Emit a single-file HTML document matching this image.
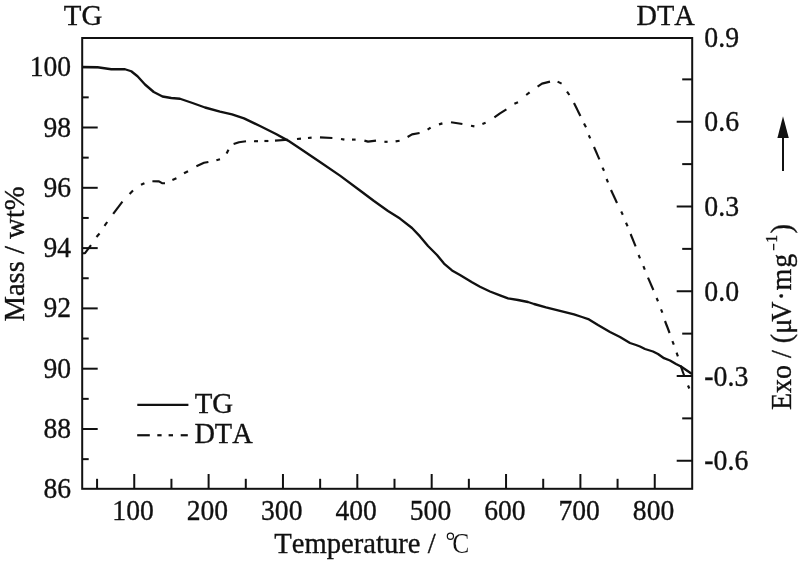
<!DOCTYPE html>
<html><head><meta charset="utf-8"><title>TG-DTA</title>
<style>html,body{margin:0;padding:0;background:#fff;}body{width:800px;height:562px;overflow:hidden;}svg{display:block;}text{font-family:"Liberation Serif",serif;fill:#111;font-kerning:none;stroke:#111;stroke-width:0.35px;}</style>
</head><body>
<svg width="800" height="562" viewBox="0 0 800 562">
<rect x="0" y="0" width="800" height="562" fill="#ffffff"/>
<g stroke="#111" stroke-width="2.0" fill="none" stroke-linecap="butt">
<rect x="82.2" y="38.0" width="610.00" height="450.80"/>
<line x1="82.2" y1="459.15" x2="88.7" y2="459.15"/>
<line x1="82.2" y1="429.00" x2="97.7" y2="429.00"/>
<line x1="82.2" y1="398.85" x2="88.7" y2="398.85"/>
<line x1="82.2" y1="368.70" x2="97.7" y2="368.70"/>
<line x1="82.2" y1="338.55" x2="88.7" y2="338.55"/>
<line x1="82.2" y1="308.40" x2="97.7" y2="308.40"/>
<line x1="82.2" y1="278.25" x2="88.7" y2="278.25"/>
<line x1="82.2" y1="248.10" x2="97.7" y2="248.10"/>
<line x1="82.2" y1="217.95" x2="88.7" y2="217.95"/>
<line x1="82.2" y1="187.80" x2="97.7" y2="187.80"/>
<line x1="82.2" y1="157.65" x2="88.7" y2="157.65"/>
<line x1="82.2" y1="127.50" x2="97.7" y2="127.50"/>
<line x1="82.2" y1="97.35" x2="88.7" y2="97.35"/>
<line x1="82.2" y1="67.20" x2="97.7" y2="67.20"/>
<line x1="692.2" y1="460.75" x2="676.7" y2="460.75"/>
<line x1="692.2" y1="418.38" x2="682.2" y2="418.38"/>
<line x1="692.2" y1="376.00" x2="676.7" y2="376.00"/>
<line x1="692.2" y1="333.62" x2="682.2" y2="333.62"/>
<line x1="692.2" y1="291.25" x2="676.7" y2="291.25"/>
<line x1="692.2" y1="248.87" x2="682.2" y2="248.87"/>
<line x1="692.2" y1="206.50" x2="676.7" y2="206.50"/>
<line x1="692.2" y1="164.12" x2="682.2" y2="164.12"/>
<line x1="692.2" y1="121.75" x2="676.7" y2="121.75"/>
<line x1="692.2" y1="79.37" x2="682.2" y2="79.37"/>
<line x1="97.07" y1="488.8" x2="97.07" y2="478.8"/>
<line x1="134.25" y1="488.8" x2="134.25" y2="474.0"/>
<line x1="171.43" y1="488.8" x2="171.43" y2="478.8"/>
<line x1="208.61" y1="488.8" x2="208.61" y2="474.0"/>
<line x1="245.79" y1="488.8" x2="245.79" y2="478.8"/>
<line x1="282.96" y1="488.8" x2="282.96" y2="474.0"/>
<line x1="320.14" y1="488.8" x2="320.14" y2="478.8"/>
<line x1="357.32" y1="488.8" x2="357.32" y2="474.0"/>
<line x1="394.50" y1="488.8" x2="394.50" y2="478.8"/>
<line x1="431.68" y1="488.8" x2="431.68" y2="474.0"/>
<line x1="468.86" y1="488.8" x2="468.86" y2="478.8"/>
<line x1="506.04" y1="488.8" x2="506.04" y2="474.0"/>
<line x1="543.21" y1="488.8" x2="543.21" y2="478.8"/>
<line x1="580.39" y1="488.8" x2="580.39" y2="474.0"/>
<line x1="617.57" y1="488.8" x2="617.57" y2="478.8"/>
<line x1="654.75" y1="488.8" x2="654.75" y2="474.0"/>
</g>
<polyline fill="none" stroke="#111" stroke-width="2.35" stroke-linejoin="round" points="82.5,67 97.5,67.25 111.25,69.25 125,69.25 131.25,71.25 137.5,76.25 145,84.5 153.75,92 162.5,96.5 171.25,98 180,98.75 192.5,103 205,107.5 220,111.7 232,114.4 244,118.4 260,126 276,134 288,140.6 300,148.6 320,162 340,175.6 360,190.5 374,201 388,211 400,218.6 412,228 420,236.4 428,246 437,255 444,263.6 452,270.4 460,275 472,282.3 480,286.8 490,291.5 500,295.4 508,298.4 518,300 528,302 534,304 546,307.4 558,310.4 574,314.4 582,317 589,319.4 598,325 610,332 620,337 630,343 636,345 640,346.5 645,349 653,351.5 658,354 664,358.2 670,360.5 676,364 681,366.5 692,374"/>
<g fill="none" stroke="#111" stroke-width="2.15" stroke-linejoin="round" stroke-linecap="butt">
<polyline points="82.5,253.2 85,253.2 91,245.2"/>
<polyline points="96.5,237 99.5,233.5"/>
<polyline points="104.5,225.8 107.2,222"/>
<polyline points="113.2,213.8 122.4,201.6"/>
<polyline points="129.6,194 133,190.6"/>
<polyline points="141,184.8 144.4,183.2"/>
<polyline points="152.4,181.2 159,181.4 162,183.2 165,183.2"/>
<polyline points="172.4,180 176.4,178.2"/>
<polyline points="184,173.2 188,171.2"/>
<polyline points="196.4,166.2 204,162.8 208.4,162"/>
<polyline points="216.4,160.2 220,159.2"/>
<polyline points="226.6,153.6 228.5,149.8"/>
<polyline points="233.6,144 239,142.2 246,141.2"/>
<polyline points="254,141.2 258,141.2"/>
<polyline points="264.4,141 268.4,141"/>
<polyline points="275,140.6 288,139.8"/>
<polyline points="297,139 301,138.6"/>
<polyline points="308,138 311.6,137.6"/>
<polyline points="320,137.4 332.4,138"/>
<polyline points="341,139 344.4,139.6"/>
<polyline points="352,139.6 355.6,139.6"/>
<polyline points="364.4,140.6 368,141.6 376,140.6"/>
<polyline points="384.4,141.8 387.6,141.8"/>
<polyline points="395.6,141.4 399.6,140.8"/>
<polyline points="407.6,137 412,134.4 419.6,133"/>
<polyline points="427.6,129.6 430.6,127.6"/>
<polyline points="439,124.4 442.4,123.4"/>
<polyline points="451,122.2 462.4,124"/>
<polyline points="471,125.8 474.4,126.4"/>
<polyline points="482.4,124 485.6,122.8"/>
<polyline points="494.4,117.4 500,113.4 506.4,109.4"/>
<polyline points="514.4,103.8 518,102.2"/>
<polyline points="526.2,95 529.6,92.4"/>
<polyline points="537.6,86.6 542,83.6 550,81.6"/>
<polyline points="557.6,81.6 561.6,83.6"/>
<polyline points="567,91.6 569.4,95"/>
<polyline points="574,103 580.4,116"/>
<polyline points="584,123.6 586,127.2"/>
<polyline points="588.8,135.2 590.2,138.4"/>
<polyline points="594,147 599.4,159.4"/>
<polyline points="602.5,167.6 604,170.8"/>
<polyline points="606.6,179 608,182.4"/>
<polyline points="611,190 617,203"/>
<polyline points="621.2,211.6 622.8,214.8"/>
<polyline points="626,222.8 627.6,226.2"/>
<polyline points="630.6,234 635.6,246.4"/>
<polyline points="638.6,255 640,258.4"/>
<polyline points="643.4,266.2 644.8,269.6"/>
<polyline points="648,277.6 653.4,290"/>
<polyline points="656.6,298 658,301.2"/>
<polyline points="661,309.4 662.4,312.6"/>
<polyline points="665,321 669.6,333"/>
<polyline points="672.4,341.2 673.8,344.7"/>
<polyline points="676.6,352.7 677.9,356.3"/>
<polyline points="680.5,365.5 684.5,376.5"/>
<polyline points="688,385.5 689.3,388.5"/>
</g>
<g fill="none" stroke="#111" stroke-width="2.2">
<line x1="137.3" y1="404.9" x2="188.4" y2="404.9"/>
<line x1="137.2" y1="435.25" x2="149.8" y2="435.25"/>
<line x1="157.3" y1="435.25" x2="161.6" y2="435.25"/>
<line x1="168.6" y1="435.25" x2="173.0" y2="435.25"/>
<line x1="180.7" y1="435.25" x2="187.8" y2="435.25"/>
</g>
<g opacity="0.999">
<text transform="translate(63.8,24.9) scale(0.962,1)" font-size="30.0">TG</text>
<text transform="translate(636.6,24.8) scale(0.945,1)" font-size="30.0">DTA</text>
<text transform="translate(194.7,413.3) scale(0.962,1)" font-size="30.0">TG</text>
<text transform="translate(194.4,443.3) scale(0.945,1)" font-size="30.0">DTA</text>
<text transform="translate(71.1,498.3) scale(0.906,1)" font-size="30.5" text-anchor="end">86</text>
<text transform="translate(71.1,438.0) scale(0.906,1)" font-size="30.5" text-anchor="end">88</text>
<text transform="translate(71.1,377.7) scale(0.906,1)" font-size="30.5" text-anchor="end">90</text>
<text transform="translate(71.1,317.4) scale(0.906,1)" font-size="30.5" text-anchor="end">92</text>
<text transform="translate(71.1,257.1) scale(0.906,1)" font-size="30.5" text-anchor="end">94</text>
<text transform="translate(71.1,196.8) scale(0.906,1)" font-size="30.5" text-anchor="end">96</text>
<text transform="translate(71.1,136.5) scale(0.906,1)" font-size="30.5" text-anchor="end">98</text>
<text transform="translate(71.1,76.2) scale(0.906,1)" font-size="30.5" text-anchor="end">100</text>
<text transform="translate(704.3,46.6) scale(0.912,1)" font-size="30.5">0.9</text>
<text transform="translate(704.3,131.35) scale(0.912,1)" font-size="30.5">0.6</text>
<text transform="translate(704.3,216.1) scale(0.912,1)" font-size="30.5">0.3</text>
<text transform="translate(704.3,300.85) scale(0.912,1)" font-size="30.5">0.0</text>
<text transform="translate(704.3,385.6) scale(0.912,1)" font-size="30.5">-0.3</text>
<text transform="translate(704.3,470.35) scale(0.912,1)" font-size="30.5">-0.6</text>
<text transform="translate(133.05,519.8) scale(0.906,1)" font-size="30.5" text-anchor="middle">100</text>
<text transform="translate(207.41,519.8) scale(0.906,1)" font-size="30.5" text-anchor="middle">200</text>
<text transform="translate(281.76,519.8) scale(0.906,1)" font-size="30.5" text-anchor="middle">300</text>
<text transform="translate(356.12,519.8) scale(0.906,1)" font-size="30.5" text-anchor="middle">400</text>
<text transform="translate(430.48,519.8) scale(0.906,1)" font-size="30.5" text-anchor="middle">500</text>
<text transform="translate(504.84,519.8) scale(0.906,1)" font-size="30.5" text-anchor="middle">600</text>
<text transform="translate(579.19,519.8) scale(0.906,1)" font-size="30.5" text-anchor="middle">700</text>
<text transform="translate(653.55,519.8) scale(0.906,1)" font-size="30.5" text-anchor="middle">800</text>
<text transform="translate(274.2,553.3) scale(0.955,1)" font-size="30.0">Temperature /</text>
<circle cx="450.4" cy="536.2" r="3.1" fill="none" stroke="#111" stroke-width="1.2"/>
<text transform="translate(452.3,553.3) scale(0.84,1)" font-size="30.5" style="stroke:#fff;stroke-width:0.2px">C</text>
<text transform="translate(23.9,321.6) rotate(-90) scale(0.956,1)" font-size="30.0">Mass / wt%</text>
<text transform="translate(791.3,410.0) rotate(-90) scale(0.933,1)" font-size="30.0">Exo / (μ</text>
<text transform="translate(791.3,321.81) rotate(-90) scale(0.933,1)" font-size="30.0">V</text>
<text transform="translate(791.3,300.6) rotate(-90) scale(0.933,1)" font-size="30.0">·</text>
<text transform="translate(791.3,290.38) rotate(-90) scale(0.933,1)" font-size="30.0">m</text>
<text transform="translate(791.3,267.71) rotate(-90) scale(0.933,1)" font-size="30.0">g</text>
<line x1="773.7" y1="243.8" x2="773.7" y2="250.2" stroke="#111" stroke-width="1.3"/>
<text transform="translate(777.4,242.8) rotate(-90) scale(0.95,1)" font-size="16.5">1</text>
<text transform="translate(791.3,233.4) rotate(-90) scale(0.962,1)" font-size="30.0">)</text>
</g>
<line x1="783" y1="171" x2="783" y2="136" stroke="#111" stroke-width="2"/>
<polygon points="783,116.2 777.4,138 788.8,138" fill="#111"/>
</svg>
</body></html>
